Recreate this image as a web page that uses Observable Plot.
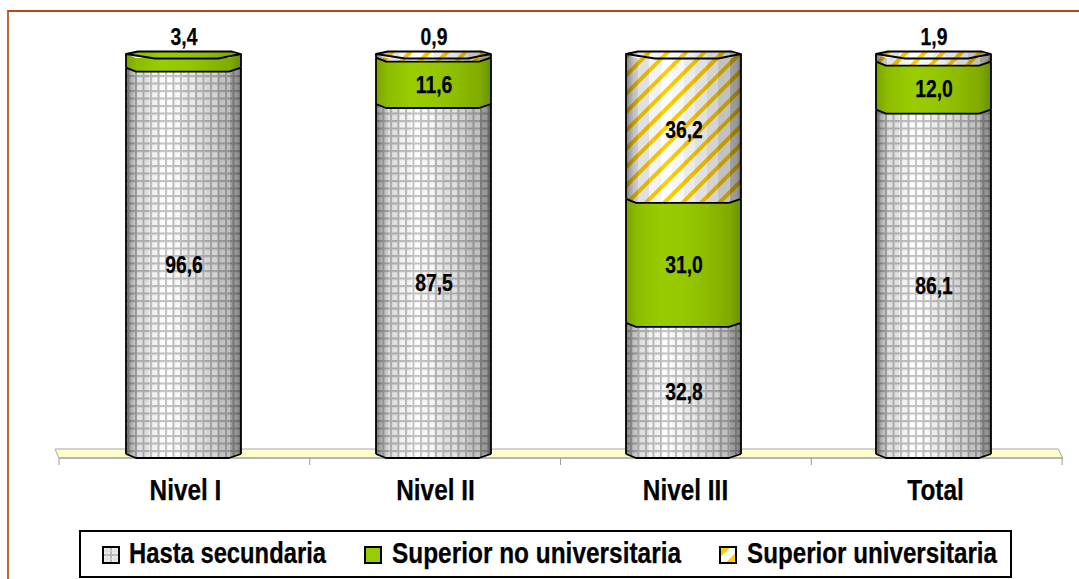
<!DOCTYPE html>
<html>
<head>
<meta charset="utf-8">
<script src="https://cdn.jsdelivr.net/npm/d3@7"></script>
<script src="https://cdn.jsdelivr.net/npm/@observablehq/plot@0.6"></script>
<style>
  html, body { margin: 0; padding: 0; background: #fff; }
  #page { position: relative; width: 1079px; height: 579px; overflow: hidden; font-family: "Liberation Sans", Arial, sans-serif; }
  #frame { position: absolute; left: 7px; top: 10px; right: -5px; bottom: -5px; border-left: 2px solid #C0643A; border-top: 2px solid #B8451A; }
  #chart { position: absolute; left: 0; top: 0; }
  #legend { position: absolute; left: 79px; top: 530px; width: 929px; height: 44px; border: 2px solid #000; background: #fff; }
  #legend .lab { position: absolute; top: 3px; line-height: 36px; font-weight: bold; font-size: 29px; color: #000; white-space: nowrap; transform-origin: 0 50%; -webkit-text-stroke: 0.25px #000; }
  #legend svg { position: absolute; top: 14px; }
</style>
</head>
<body>
<div id="page">
  <div id="frame"></div>
  <div id="chart"></div>
  <div id="legend"></div>
</div>
<script>
const categories = ["Nivel I", "Nivel II", "Nivel III", "Total"];
const series = ["Hasta secundaria", "Superior no universitaria", "Superior universitaria"];
const hastaSecundaria = [96.6, 87.5, 32.8, 86.1];
const superiorNoUniversitaria = [3.4, 11.6, 31.0, 12.0];
const superiorUniversitaria = [0, 0.9, 36.2, 1.9];
const seriesValues = [hastaSecundaria, superiorNoUniversitaria, superiorUniversitaria];
const patternIds = ["url(#pGrid)", "url(#pGreen)", "url(#pStripe)"];

const rows = categories.flatMap((c, i) =>
  series.map((s, k) => ({category: c, series: s, value: seriesValues[k][i]})).filter(d => d.value > 0)
);
const fmt = v => v.toFixed(1).replace(".", ",");
const FONT = '"Liberation Sans", Arial, sans-serif';
const NS = "http://www.w3.org/2000/svg";

const stops = a => a.map(([o, v]) => `<stop offset="${o}" stop-color="#000" stop-opacity="${v}"/>`).join("");
const defsMarkup = `
<defs>
  <pattern id="pGrid" patternUnits="userSpaceOnUse" width="7.5" height="7.5">
    <rect width="7.5" height="7.5" fill="#fff"/>
    <path d="M0 1H7.5 M1 0V7.5" stroke="#c2c2c2" stroke-width="2" fill="none"/>
  </pattern>
  <pattern id="pGreen" patternUnits="userSpaceOnUse" width="8" height="8">
    <rect width="8" height="8" fill="#99CC00"/>
  </pattern>
  <pattern id="pStripe" patternUnits="userSpaceOnUse" width="13" height="13" patternTransform="rotate(-45)">
    <rect width="13" height="13" fill="#fff"/>
    <rect width="13" height="4" fill="#FFCC00"/>
  </pattern>
  <linearGradient id="shade" x1="0" x2="1" y1="0" y2="0">
    ${stops([[0,.5],[.03,.38],[.07,.24],[.1,.2],[.1,.12],[.2,.12],[.2,.05],[.3,.05],[.3,0],[.4,0],[.4,.03],[.5,.03],[.5,.08],[.6,.08],[.6,.12],[.7,.12],[.7,.17],[.8,.17],[.8,.24],[.9,.24],[.9,.36],[.97,.42],[1,.6]])}
  </linearGradient>
  <linearGradient id="shadeGreen" x1="0" x2="1" y1="0" y2="0">
    ${stops([[0,.2],[.1,.08],[.3,0],[.5,.02],[.7,.08],[.9,.16],[1,.3]])}
  </linearGradient>
</defs>`;

function cylinderRender(index, scales, values, dims, ctx, next) {
  const g = next(index, scales, values, dims, ctx);
  const rects = Array.from(g.querySelectorAll("rect"));
  const topY = scales.y(100);
  const add = (parent, d, attrs) => {
    const p = document.createElementNS(NS, "path");
    p.setAttribute("d", d);
    for (const k in attrs) p.setAttribute(k, attrs[k]);
    parent.appendChild(p);
  };
  const strokes = [];
  for (const r of rects) {
    const x0 = +r.getAttribute("x"), w = +r.getAttribute("width");
    const y = +r.getAttribute("y"), h = +r.getAttribute("height");
    const x1 = x0 + w, fill = r.getAttribute("fill");
    const b = y + h;
    const d = `M${x0},${y} L${x0 + 10},${y + 4} L${x1 - 12},${y + 4} L${x1},${y} L${x1},${b} L${x1 - 12},${b + 4} L${x0 + 10},${b + 4} L${x0},${b} Z`;
    const shade = fill === patternIds[1] ? "url(#shadeGreen)" : "url(#shade)";
    const parent = r.parentNode;
    add(parent, d, {fill});
    add(parent, d, {fill: shade});
    if (Math.abs(y - topY) < 0.5) {
      const cap = `M${x0},${y} L${x0 + 12},${y - 2.5} L${x1 - 9},${y - 2.5} L${x1},${y} L${x1 - 23},${y + 4.5} L${x0 + 29},${y + 4.5} Z`;
      add(parent, cap, {fill});
      add(parent, cap, {fill: shade});
      strokes.push(cap);
    }
    strokes.push(`M${x0},${y} V${b}`, `M${x1},${y} V${b}`);
    strokes.push(`M${x0},${b} L${x0 + 10},${b + 4} L${x1 - 12},${b + 4} L${x1},${b}`);
    r.remove();
  }
  for (const s of strokes) add(g, s, {fill: "none", stroke: "#000", "stroke-width": 1.8, "stroke-linejoin": "round"});
  return g;
}

function floorMark(index, scales, values, dims) {
  const g = document.createElementNS(NS, "g");
  const L = dims.marginLeft, R = dims.width - dims.marginRight;
  const y0 = scales.y(0);
  const step = (R - L) / categories.length;
  const p = document.createElementNS(NS, "path");
  p.setAttribute("d", `M${L - 3},${y0 - 5} L${R - 1},${y0 - 5} L${R + 3},${y0 + 4} L${L + 1},${y0 + 4} Z`);
  p.setAttribute("fill", "#FFFFCC");
  p.setAttribute("stroke", "#a8a8a8");
  g.appendChild(p);
  const t = document.createElementNS(NS, "path");
  t.setAttribute("d", d3.range(categories.length + 1).map(i => {
    const x = L + 1 + i * (step + 0.4);
    return `M${x},${y0 + 4} V${y0 + 11}`;
  }).join(" ") + ` M${L + 1},${y0 + 4} H${R + 3}`);
  t.setAttribute("stroke", "#9a9a9a");
  t.setAttribute("fill", "none");
  g.appendChild(t);
  return g;
}

const plot = Plot.plot({
  width: 1079,
  height: 525,
  marginTop: 54,
  marginBottom: 71,
  marginLeft: 58,
  marginRight: 19.5,
  style: {background: "transparent", overflow: "visible"},
  x: {domain: categories, paddingInner: 0.54, paddingOuter: 0.27, label: null},
  y: {domain: [0, 100], axis: null},
  color: {domain: series, range: patternIds},
  marks: [
    () => { const t = document.createElementNS(NS, "g"); t.innerHTML = defsMarkup; return t; },
    floorMark,
    Plot.barY(rows, Plot.stackY({x: "category", y: "value", fill: "series", order: null, render: cylinderRender})),
    Plot.text(rows, Plot.stackY({
      x: "category", y: "value", order: null,
      text: d => d.value >= 5 ? fmt(d.value) : "",
      dy: 4, fontSize: 23, fontWeight: "bold", fontFamily: FONT, fill: "#000"
    })),
    Plot.text(rows.filter(d => d.value < 5), {
      x: "category", y: () => 100, text: d => fmt(d.value),
      dy: -17, fontSize: 23, fontWeight: "bold", fontFamily: FONT, fill: "#000"
    }),
    Plot.axisX({tickSize: 0, tickPadding: 0, dy: 25, dx: 1.5, fontSize: 29, fontWeight: "bold", fontFamily: FONT, label: null, fill: "#000"})
  ]
});
document.getElementById("chart").appendChild(plot);

// Arial Narrow look: squeeze real text horizontally
plot.querySelectorAll("text").forEach(t => {
  const len = t.getComputedTextLength();
  if (len > 0) {
    t.setAttribute("textLength", len * 0.84);
    t.setAttribute("lengthAdjust", "spacingAndGlyphs");
    t.setAttribute("stroke", "#000");
    t.setAttribute("stroke-width", 0.25);
  }
});

// Legend
const legend = document.getElementById("legend");
const legendText = [{x: 48, w: 197}, {x: 311, w: 289}, {x: 666, w: 250}];
const legendSwatch = [21, 283, 638];
const swatches = [
  `<rect x="1" y="1" width="16" height="16" fill="#eee"/><path d="M9 1V17M1 9H17" stroke="#b4b4b4" stroke-width="2"/><path d="M5 1V17M13 1V17M1 5H17M1 13H17" stroke="#d8d8d8"/>`,
  `<rect x="1" y="1" width="16" height="16" fill="#99CC00"/>`,
  `<defs><clipPath id="sw3"><rect x="1" y="1" width="16" height="16"/></clipPath></defs><rect x="1" y="1" width="16" height="16" fill="#fff"/><g clip-path="url(#sw3)"><path d="M-1 10L10 -1M8 19L19 8" stroke="#FFCC00" stroke-width="5"/></g>`
];
series.forEach((s, i) => {
  const sv = document.createElementNS(NS, "svg");
  sv.setAttribute("width", 18); sv.setAttribute("height", 18);
  sv.style.left = legendSwatch[i] + "px";
  sv.innerHTML = swatches[i] + `<rect x="1" y="1" width="16" height="16" fill="none" stroke="#000" stroke-width="2"/>`;
  legend.appendChild(sv);
  const sp = document.createElement("span");
  sp.className = "lab";
  sp.textContent = s;
  sp.style.left = legendText[i].x + "px";
  legend.appendChild(sp);
  sp.style.transform = `scaleX(${legendText[i].w / sp.getBoundingClientRect().width})`;
});
</script>
</body>
</html>
